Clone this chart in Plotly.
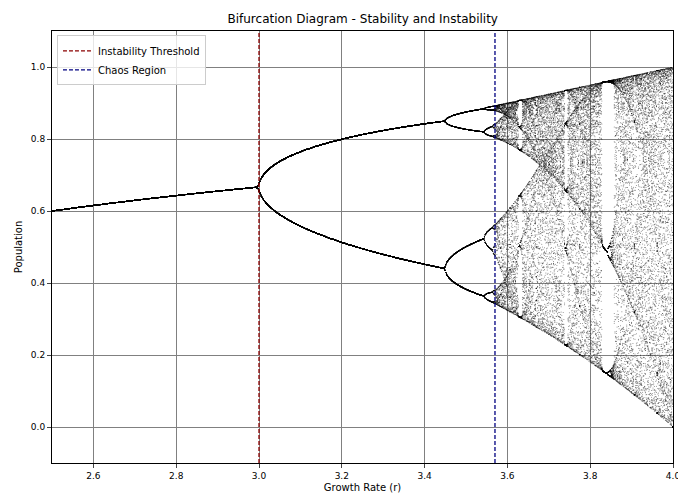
import numpy as np
import plotly.graph_objects as go

# Parameters of the logistic map x -> r*x*(1-x) shown in the diagram
r_start, r_stop, r_count = 2.5, 4.0, 900
x0 = 0.5
transient_steps = 500
kept_steps = 90
instability_threshold = 3.0
chaos_onset = 3.57
x_ticks = [2.6, 2.8, 3.0, 3.2, 3.4, 3.6, 3.8, 4.0]
y_ticks = [0.0, 0.2, 0.4, 0.6, 0.8, 1.0]

r_values = np.linspace(r_start, r_stop, r_count)
x = np.full(r_count, x0)
for _ in range(transient_steps):
    x = r_values * x * (1 - x)
rs, xs = [], []
for _ in range(kept_steps):
    x = r_values * x * (1 - x)
    rs.append(r_values.copy())
    xs.append(x.copy())
rs = np.concatenate(rs)
xs = np.concatenate(xs)

fig = go.Figure()
fig.add_trace(go.Scatter(x=rs, y=xs, mode="markers",
                         marker=dict(size=1.0, color="black", opacity=0.5, line=dict(width=0)),
                         showlegend=False, hoverinfo="skip"))
fig.add_trace(go.Scatter(x=[instability_threshold, instability_threshold], y=[-0.1, 1.1], mode="lines",
                         line=dict(color="#8b0000", width=1.3, dash="4px,2px"),
                         name="Instability Threshold"))
fig.add_trace(go.Scatter(x=[chaos_onset, chaos_onset], y=[-0.1, 1.1], mode="lines",
                         line=dict(color="#000080", width=1.3, dash="4px,2px"),
                         name="Chaos Region"))

fig.update_layout(
    width=678, height=497,
    margin=dict(l=52, r=5, t=31, b=34),
    paper_bgcolor="white", plot_bgcolor="white",
    font=dict(family="DejaVu Sans", size=10, color="black"),
    title=dict(text="Bifurcation Diagram - Stability and Instability", x=0.535, xanchor="center",
               y=0.962, yanchor="middle", font=dict(size=12)),
    legend=dict(x=0.008, y=0.99, xanchor="left", yanchor="top", bgcolor="rgba(255,255,255,0.8)",
                bordercolor="#cccccc", borderwidth=1, font=dict(size=10),
                tracegroupgap=0, itemwidth=30),
    xaxis=dict(range=[r_start, r_stop], tickvals=x_ticks, ticktext=[f"{v:.1f}" for v in x_ticks],
               showgrid=True, gridcolor="#808080", ticklabeloverflow="allow", automargin=False,
               gridwidth=1, zeroline=False, showline=True, linecolor="black", mirror=True,
               ticks="outside", ticklen=4, tickfont=dict(size=9),
               title=dict(text="Growth Rate (r)", font=dict(size=10), standoff=4)),
    yaxis=dict(range=[-0.1, 1.1], tickvals=y_ticks, ticktext=[f"{v:.1f}" for v in y_ticks],
               showgrid=True, gridcolor="#808080", automargin=False,
               gridwidth=1, zeroline=False, showline=True, linecolor="black", mirror=True,
               ticks="outside", ticklen=4, tickfont=dict(size=9),
               title=dict(text="Population", font=dict(size=10), standoff=6)),
)

fig.write_html("out.html")
